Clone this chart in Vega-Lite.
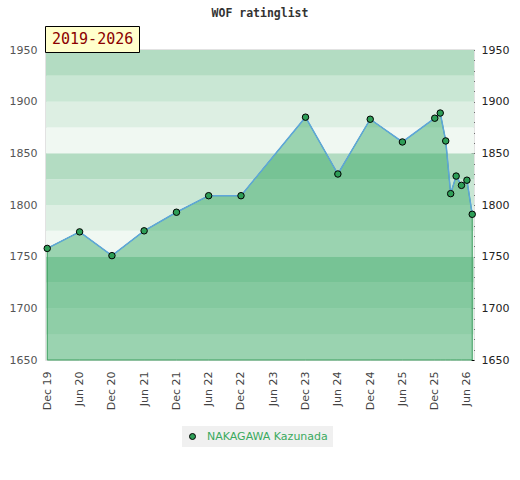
{
  "$schema": "https://vega.github.io/schema/vega-lite/v6.json",
  "width": 428,
  "height": 310,
  "autosize": {"type": "none"},
  "padding": {"left": 46, "top": 50, "right": 46, "bottom": 120},
  "background": "#ffffff",
  "config": {"view": {"stroke": "#d9d9d9", "strokeWidth": 1.5}},
  "title": {
    "text": "WOF ratinglist",
    "font": "DejaVu Sans Mono",
    "fontSize": 11.5,
    "fontWeight": "bold",
    "color": "#333333",
    "anchor": "middle",
    "offset": 6
  },
  "datasets": {
    "bands": [
      {"lo": 1650, "hi": 1675},
      {"lo": 1675, "hi": 1700},
      {"lo": 1700, "hi": 1725},
      {"lo": 1725, "hi": 1750},
      {"lo": 1750, "hi": 1775},
      {"lo": 1775, "hi": 1800},
      {"lo": 1800, "hi": 1825},
      {"lo": 1825, "hi": 1850},
      {"lo": 1850, "hi": 1875},
      {"lo": 1875, "hi": 1900},
      {"lo": 1900, "hi": 1925},
      {"lo": 1925, "hi": 1950}
    ],
    "ratings": [
      {"date": "2019-12-01", "rating": 1758, "player": "NAKAGAWA Kazunada", "period": "2019-2026"},
      {"date": "2020-06-01", "rating": 1774, "player": "NAKAGAWA Kazunada", "period": "2019-2026"},
      {"date": "2020-12-01", "rating": 1751, "player": "NAKAGAWA Kazunada", "period": "2019-2026"},
      {"date": "2021-06-01", "rating": 1775, "player": "NAKAGAWA Kazunada", "period": "2019-2026"},
      {"date": "2021-12-01", "rating": 1793, "player": "NAKAGAWA Kazunada", "period": "2019-2026"},
      {"date": "2022-06-01", "rating": 1809, "player": "NAKAGAWA Kazunada", "period": "2019-2026"},
      {"date": "2022-12-01", "rating": 1809, "player": "NAKAGAWA Kazunada", "period": "2019-2026"},
      {"date": "2023-12-01", "rating": 1885, "player": "NAKAGAWA Kazunada", "period": "2019-2026"},
      {"date": "2024-06-01", "rating": 1830, "player": "NAKAGAWA Kazunada", "period": "2019-2026"},
      {"date": "2024-12-01", "rating": 1883, "player": "NAKAGAWA Kazunada", "period": "2019-2026"},
      {"date": "2025-06-01", "rating": 1861, "player": "NAKAGAWA Kazunada", "period": "2019-2026"},
      {"date": "2025-12-01", "rating": 1884, "player": "NAKAGAWA Kazunada", "period": "2019-2026"},
      {"date": "2026-01-01", "rating": 1889, "player": "NAKAGAWA Kazunada", "period": "2019-2026"},
      {"date": "2026-02-01", "rating": 1862, "player": "NAKAGAWA Kazunada", "period": "2019-2026"},
      {"date": "2026-03-01", "rating": 1811, "player": "NAKAGAWA Kazunada", "period": "2019-2026"},
      {"date": "2026-04-01", "rating": 1828, "player": "NAKAGAWA Kazunada", "period": "2019-2026"},
      {"date": "2026-05-01", "rating": 1819, "player": "NAKAGAWA Kazunada", "period": "2019-2026"},
      {"date": "2026-06-01", "rating": 1824, "player": "NAKAGAWA Kazunada", "period": "2019-2026"},
      {"date": "2026-07-01", "rating": 1791, "player": "NAKAGAWA Kazunada", "period": "2019-2026"}
    ]
  },
  "resolve": {"axis": {"y": "independent"}},
  "layer": [
    {
      "data": {"name": "bands"},
      "mark": {"type": "rect"},
      "encoding": {
        "y": {"field": "lo", "type": "quantitative", "scale": {"domain": [1650, 1950], "nice": false, "zero": false}, "axis": null},
        "y2": {"field": "hi"},
        "color": {
          "field": "lo",
          "type": "ordinal",
          "scale": {
            "domain": [1650, 1675, 1700, 1725, 1750, 1775, 1800, 1825, 1850, 1875, 1900, 1925],
            "range": ["#f0f8f2", "#ddefe3", "#c9e7d4", "#b3dcc2", "#f0f8f2", "#ddefe3", "#c9e7d4", "#b3dcc2", "#f0f8f2", "#ddefe3", "#c9e7d4", "#b3dcc2"]
          },
          "legend": null
        }
      }
    },
    {
      "data": {"name": "ratings"},
      "encoding": {
        "x": {
          "field": "date",
          "type": "temporal",
          "scale": {"type": "utc", "domain": [{"year": 2019, "month": 11, "date": 24, "utc": true}, {"year": 2026, "month": 7, "date": 11, "utc": true}]},
          "axis": {
            "values": [
              {"year": 2019, "month": 12, "date": 1, "utc": true},
              {"year": 2020, "month": 6, "date": 1, "utc": true},
              {"year": 2020, "month": 12, "date": 1, "utc": true},
              {"year": 2021, "month": 6, "date": 1, "utc": true},
              {"year": 2021, "month": 12, "date": 1, "utc": true},
              {"year": 2022, "month": 6, "date": 1, "utc": true},
              {"year": 2022, "month": 12, "date": 1, "utc": true},
              {"year": 2023, "month": 6, "date": 1, "utc": true},
              {"year": 2023, "month": 12, "date": 1, "utc": true},
              {"year": 2024, "month": 6, "date": 1, "utc": true},
              {"year": 2024, "month": 12, "date": 1, "utc": true},
              {"year": 2025, "month": 6, "date": 1, "utc": true},
              {"year": 2025, "month": 12, "date": 1, "utc": true},
              {"year": 2026, "month": 6, "date": 1, "utc": true}
            ],
            "format": "%b %y",
            "labelAngle": 270,
            "labelPadding": 11,
            "labelOverlap": false,
            "labelFont": "DejaVu Sans",
            "labelFontSize": 11,
            "labelColor": "#444444",
            "ticks": false,
            "domain": false,
            "grid": false,
            "title": null
          }
        },
        "y": {
          "field": "rating",
          "type": "quantitative",
          "scale": {"domain": [1650, 1950], "nice": false, "zero": false},
          "axis": {
            "orient": "left",
            "values": [1650, 1700, 1750, 1800, 1850, 1900, 1950],
            "format": "d",
            "labelFont": "DejaVu Sans",
            "labelFontSize": 11,
            "labelColor": "#555555",
            "labelPadding": 9,
            "ticks": false,
            "domain": false,
            "grid": false,
            "title": null
          }
        }
      },
      "resolve": {"axis": {"y": "independent"}},
      "layer": [
        {
          "mark": {"type": "area", "color": "#2ca45b", "fillOpacity": 0.44, "stroke": "#3a9d5d", "strokeWidth": 1},
          "encoding": {"y2": {"datum": 1650}}
        },
        {
          "mark": {"type": "line", "color": "#5ea6da", "strokeWidth": 1.5},
          "encoding": {
            "y": {
              "field": "rating",
              "type": "quantitative",
              "axis": {
                "orient": "right",
                "values": [1650, 1660, 1670, 1680, 1690, 1700, 1710, 1720, 1730, 1740, 1750, 1760, 1770, 1780, 1790, 1800, 1810, 1820, 1830, 1840, 1850, 1860, 1870, 1880, 1890, 1900, 1910, 1920, 1930, 1940, 1950],
                "format": "d",
                "labelExpr": "datum.value % 50 == 0 ? datum.label : ''",
                "labelOverlap": false,
                "labelFont": "DejaVu Sans",
                "labelFontSize": 11,
                "labelColor": "#222222",
                "labelPadding": 7,
                "offset": -3,
                "tickSize": 3,
                "tickColor": "#000000",
                "domain": false,
                "grid": false,
                "title": null
              }
            }
          }
        },
        {
          "mark": {"type": "point", "filled": true, "size": 42, "stroke": "#000000", "strokeWidth": 1, "opacity": 1},
          "encoding": {
            "y": {"field": "rating", "type": "quantitative", "axis": null},
            "fill": {
              "field": "player",
              "type": "nominal",
              "scale": {"range": ["#2e9e57"]},
              "legend": {
                "orient": "none",
                "legendX": 136,
                "legendY": 376,
                "title": null,
                "fillColor": "#f0f0f0",
                "padding": 5,
                "labelColor": "#3aaa5e",
                "labelFont": "DejaVu Sans",
                "labelFontSize": 11,
                "labelOffset": 9,
                "symbolSize": 36,
                "symbolType": "circle",
                "symbolStrokeColor": "#000000",
                "symbolStrokeWidth": 1
              }
            },
            "shape": {
              "field": "period",
              "type": "nominal",
              "scale": {"range": ["circle"]},
              "legend": {
                "orient": "none",
                "legendX": -1,
                "legendY": -24,
                "title": null,
                "fillColor": "#ffffcc",
                "strokeColor": "#000000",
                "padding": 5,
                "labelColor": "#8b0000",
                "labelFont": "DejaVu Sans Mono",
                "labelFontSize": 15,
                "labelOffset": -13,
                "symbolSize": 0,
                "symbolOpacity": 0,
                "symbolStrokeWidth": 0
              }
            }
          }
        }
      ]
    }
  ]
}
